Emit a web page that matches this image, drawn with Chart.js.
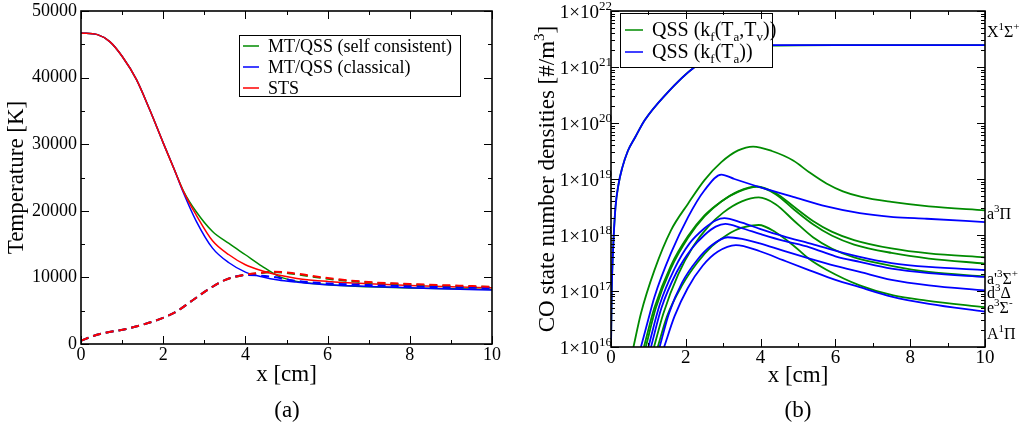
<!DOCTYPE html>
<html>
<head>
<meta charset="utf-8">
<script src="https://cdn.jsdelivr.net/npm/chart.js@4.4.1/dist/chart.umd.min.js"></script>
<style>
  body { margin: 0; background: #fff; }
  #wrap { position: relative; width: 1028px; height: 430px; overflow: hidden; }
  canvas { position: absolute; top: 0; }
  .cap { position: absolute; top: 396px; width: 100px; text-align: center;
         font: 23px "Liberation Serif", serif; line-height: 28px; color: #000; }
</style>
</head>
<body>
<div id="wrap">
  <canvas id="tempChart" width="510" height="430" style="left:0"></canvas>
  <canvas id="densChart" width="518" height="430" style="left:510px"></canvas>
  <div class="cap" style="left:237px">(a)</div>
  <div class="cap" style="left:748px">(b)</div>
</div>
<script>
// ---------------------------------------------------------------
// (a) 溫度分佈：實線 = 平移溫度, 虛線 = 振動溫度
const xTicks = [0, 2, 4, 6, 8, 10];
const tempTicks = [0, 10000, 20000, 30000, 40000, 50000];

const greenSolidX = [0, 0.4, 0.7, 1.0, 1.35, 1.67, 2.0, 2.27, 2.5, 2.8, 3.2, 3.6, 4.0, 4.4, 4.8, 5.25, 6.0, 7.0, 8.0, 9.0, 10];
const greenSolidT = [46700, 46450, 45400, 43200, 39700, 35200, 30200, 26200, 22900, 19900, 16900, 15100, 13400, 11700, 10200, 9400, 8900, 8600, 8400, 8300, 8200];
const blueSolidX  = [0, 0.4, 0.7, 1.0, 1.35, 1.67, 2.0, 2.27, 2.5, 2.8, 3.2, 3.6, 4.0, 4.4, 4.8, 5.25, 6.0, 7.0, 8.0, 9.0, 10];
const blueSolidT  = [46700, 46450, 45400, 43200, 39700, 35200, 30200, 26200, 22600, 18500, 14400, 12200, 10800, 10100, 9600, 9300, 8900, 8650, 8450, 8250, 8100];
const redSolidX   = [0, 0.4, 0.7, 1.0, 1.35, 1.67, 2.0, 2.27, 2.5, 2.8, 3.2, 3.6, 4.0, 4.4, 4.8, 5.25, 6.0, 7.0, 8.0, 9.0, 10];
const redSolidT   = [46700, 46450, 45400, 43200, 39700, 35200, 30200, 26200, 22800, 19400, 15500, 13400, 11900, 11000, 10350, 9850, 9400, 9050, 8800, 8600, 8450];

const greenDashX = [0, 0.3, 0.6, 1.1, 1.5, 1.9, 2.3, 2.7, 3.1, 3.5, 3.9, 4.3, 4.7, 5.2, 6.0, 7.0, 8.0, 9.0, 10];
const greenDashT = [500, 1200, 1700, 2250, 2900, 3700, 4800, 6500, 8200, 9600, 10300, 10600, 10800, 10500, 9800, 9250, 8950, 8700, 8550];
const blueDashX  = [0, 0.3, 0.6, 1.1, 1.5, 1.9, 2.3, 2.7, 3.1, 3.5, 4.0, 4.3, 4.7, 5.2, 6.0, 7.0, 8.0, 9.0, 10];
const blueDashT  = [500, 1200, 1700, 2250, 2900, 3700, 4800, 6500, 8200, 9600, 10350, 10300, 10050, 9500, 9100, 8850, 8650, 8500, 8400];
const redDashX   = [0, 0.3, 0.6, 1.1, 1.5, 1.9, 2.3, 2.7, 3.1, 3.5, 3.9, 4.3, 4.7, 5.2, 6.0, 7.0, 8.0, 9.0, 10];
const redDashT   = [500, 1200, 1700, 2250, 2900, 3700, 4800, 6500, 8200, 9600, 10300, 10650, 10850, 10600, 9900, 9300, 9000, 8800, 8600];

const tempLegend = ['MT/QSS (self consistent)', 'MT/QSS (classical)', 'STS'];

// ---------------------------------------------------------------
// (b) CO 各電子態數密度 [#/m^3]
const densTickExp = [16, 17, 18, 19, 20, 21, 22];

// 基態 X1Σ+
const gsGreenX = [0, 0.02, 0.06, 0.12, 0.2, 0.3, 0.45, 0.65, 0.9, 1.45, 2.24, 3.0, 3.6, 4.3, 6, 8, 10];
const gsGreenN = [1e16, 1e17, 6.31e17, 3.16e18, 7.94e18, 1.58e19, 3.16e19, 5.62e19, 1.12e20, 3.16e20, 1e21, 1.75e21, 2.15e21, 2.4e21, 2.45e21, 2.45e21, 2.45e21];
const gsBlueX  = [0, 0.02, 0.06, 0.12, 0.2, 0.3, 0.45, 0.65, 0.9, 1.45, 2.24, 3.0, 3.6, 4.3, 6, 8, 10];
const gsBlueN  = [1e16, 1e17, 6.31e17, 3.16e18, 7.94e18, 1.58e19, 3.16e19, 5.62e19, 1.12e20, 3.16e20, 1e21, 1.8e21, 2.24e21, 2.45e21, 2.45e21, 2.45e21, 2.45e21];

// QSS (kf(Ta,Tv)) 激發態
const green1X = [0.6, 0.8, 1.16, 1.6, 2.06, 2.5, 2.95, 3.4, 3.8, 4.3, 4.87, 5.3, 5.76, 6.2, 6.7, 7.5, 8.5, 10];
const green1N = [1e16, 3.98e16, 2.34e17, 1.2e18, 3.63e18, 9.55e18, 2.0e19, 3.24e19, 3.8e19, 3.16e19, 2.14e19, 1.32e19, 8.32e18, 6.03e18, 4.79e18, 3.89e18, 3.24e18, 2.75e18];
const green2X = [0.88, 1.16, 1.6, 2.06, 2.5, 2.95, 3.4, 3.9, 4.4, 4.9, 5.4, 5.9, 6.5, 7.5, 8.5, 10];
const green2N = [1e16, 5.01e16, 2.82e17, 9.55e17, 2.24e18, 3.98e18, 6.03e18, 7.41e18, 5.62e18, 3.16e18, 1.78e18, 1.15e18, 8.13e17, 5.75e17, 4.68e17, 3.98e17];
const green3X = [0.93, 1.2, 1.6, 2.06, 2.5, 2.95, 3.4, 3.9, 4.4, 4.9, 5.4, 5.9, 6.5, 7.5, 8.5, 10];
const green3N = [1e16, 5.01e16, 2.51e17, 8.91e17, 2.14e18, 3.98e18, 5.89e18, 7.24e18, 5.37e18, 2.82e18, 1.55e18, 9.77e17, 6.76e17, 4.79e17, 3.8e17, 3.09e17];
const green4X = [1.15, 1.4, 1.8, 2.2, 2.6, 3.0, 3.5, 3.95, 4.4, 4.9, 5.4, 5.9, 6.5, 7.5, 8.5, 10];
const green4N = [1e16, 3.98e16, 2.0e17, 6.31e17, 1.41e18, 2.51e18, 3.98e18, 4.68e18, 3.55e18, 1.78e18, 9.12e17, 5.75e17, 3.98e17, 2.82e17, 2.19e17, 1.82e17];
const green5X = [1.25, 1.5, 1.9, 2.3, 2.7, 3.1, 3.5, 3.95, 4.4, 4.9, 5.3, 5.76, 6.65, 7.55, 8.44, 10];
const green5N = [1e16, 3.55e16, 1.26e17, 3.16e17, 6.31e17, 1.0e18, 1.35e18, 1.51e18, 1.12e18, 6.31e17, 3.72e17, 2.4e17, 1.26e17, 8.32e16, 6.76e16, 5.13e16];

// QSS (kf(Ta)) 激發態
const blue1X = [0.8, 1.0, 1.16, 1.6, 2.06, 2.5, 2.95, 3.3, 4.0, 4.87, 5.76, 6.65, 7.55, 8.44, 10];
const blue1N = [1e16, 3.16e16, 7.76e16, 4.68e17, 2.09e18, 6.31e18, 1.2e19, 1.0e19, 7.08e18, 4.79e18, 3.24e18, 2.45e18, 2.09e18, 1.95e18, 1.7e18];
const blue2X = [1.0, 1.3, 1.7, 2.1, 2.5, 2.8, 3.03, 3.5, 3.98, 4.6, 5.31, 6.0, 6.65, 7.5, 8.5, 10];
const blue2N = [1e16, 5.62e16, 2.51e17, 7.08e17, 1.32e18, 1.82e18, 2.0e18, 1.66e18, 1.29e18, 9.55e17, 7.08e17, 5.25e17, 4.07e17, 3.16e17, 2.69e17, 2.37e17];
const blue3X = [1.07, 1.35, 1.75, 2.15, 2.5, 2.8, 3.06, 3.5, 3.98, 4.6, 5.31, 6.0, 6.65, 7.5, 8.5, 10];
const blue3N = [1e16, 5.01e16, 2.14e17, 5.62e17, 1.0e18, 1.41e18, 1.58e18, 1.32e18, 1.05e18, 7.94e17, 6.03e17, 4.17e17, 3.31e17, 2.51e17, 2.09e17, 1.78e17];
const blue4X = [1.3, 1.55, 1.9, 2.3, 2.7, 3.12, 3.5, 3.98, 4.6, 5.31, 6.0, 6.65, 7.5, 8.5, 10];
const blue4N = [1e16, 3.98e16, 1.41e17, 3.55e17, 6.61e17, 9.12e17, 8.51e17, 7.08e17, 5.25e17, 3.8e17, 2.82e17, 2.19e17, 1.58e17, 1.26e17, 1.02e17];
const blue5X = [1.42, 1.7, 2.05, 2.45, 2.85, 3.34, 3.98, 4.6, 5.31, 6.0, 6.65, 7.5, 8.5, 10];
const blue5N = [1e16, 3.55e16, 1.12e17, 2.82e17, 5.01e17, 6.61e17, 5.13e17, 3.55e17, 2.34e17, 1.58e17, 1.17e17, 7.94e16, 5.89e16, 4.27e16];

// 右側電子態標籤 (主體, 上標, 後綴上標, 標籤位置的數密度)
const stateLabels = [
  ['X', '1', 'Σ', '+', 4.4e21],
  ['a', '3', 'Π', '', 2.45e18],
  ["a'", '3', 'Σ', '+', 1.74e17],
  ['d', '3', 'Δ', '', 9.5e16],
  ['e', '3', 'Σ', '-', 5.1e16],
  ['A', '1', 'Π', '', 1.8e16]
];

// ---------------------------------------------------------------
const GREEN = 'rgb(0, 139, 0)';
const BLUE = 'rgb(0, 0, 255)';
const RED = 'rgb(255, 0, 0)';
const FONT = '"Liberation Serif", "Times New Roman", serif';

function pts(xs, ys) {
  return xs.map((x, i) => ({ x: x, y: ys[i] }));
}

function line(xs, ys, color, width, dash) {
  return {
    data: pts(xs, ys),
    borderColor: color,
    backgroundColor: color,
    borderWidth: width,
    borderDash: dash || [],
    pointRadius: 0,
    fill: false,
    cubicInterpolationMode: 'monotone'
  };
}

// 畫帶上下標的文字
function rich(ctx, parts, x, y, align) {
  let w = 0;
  parts.forEach(p => {
    ctx.font = p[1] + 'px ' + FONT;
    p.w = ctx.measureText(p[0]).width;
    w += p.w;
  });
  let cx = align === 'right' ? x - w : (align === 'center' ? x - w / 2 : x);
  ctx.textAlign = 'left';
  ctx.textBaseline = 'alphabetic';
  parts.forEach(p => {
    ctx.font = p[1] + 'px ' + FONT;
    ctx.fillText(p[0], cx, y + (p[2] || 0));
    cx += p.w;
  });
}

// 內向刻度線 (四邊)
function inTicks(ctx, a, sx, sy, xMaj, xMin, yMaj, yMin) {
  ctx.beginPath();
  const xt = (v, len) => {
    const p = Math.round(sx.getPixelForValue(v)) + 0.5;
    ctx.moveTo(p, a.bottom); ctx.lineTo(p, a.bottom - len);
    ctx.moveTo(p, a.top); ctx.lineTo(p, a.top + len);
  };
  const yt = (v, len) => {
    const p = Math.round(sy.getPixelForValue(v)) + 0.5;
    ctx.moveTo(a.left, p); ctx.lineTo(a.left + len, p);
    ctx.moveTo(a.right, p); ctx.lineTo(a.right - len, p);
  };
  xMaj.forEach(v => xt(v, 8));
  xMin.forEach(v => xt(v, 4));
  yMaj.forEach(v => yt(v, 8));
  yMin.forEach(v => yt(v, 4));
  ctx.lineWidth = 1;
  ctx.strokeStyle = '#000';
  ctx.stroke();
  ctx.lineWidth = 1.6;
  ctx.strokeRect(a.left, a.top, a.right - a.left, a.bottom - a.top);
}

// ---------------------------------------------------------------
// (a) 溫度圖
const tempDeco = {
  id: 'tempDeco',
  afterDatasetsDraw(chart) {
    const { ctx, chartArea: a, scales: { x, y } } = chart;
    ctx.save();

    // 圖例
    ctx.fillStyle = '#fff';
    ctx.fillRect(239.5, 35.5, 221, 61);
    ctx.strokeStyle = '#000';
    ctx.lineWidth = 1;
    ctx.strokeRect(239.5, 35.5, 221, 61);
    [GREEN, BLUE, RED].forEach((c, i) => {
      const ly = 46 + i * 21;
      ctx.beginPath();
      ctx.moveTo(243, ly); ctx.lineTo(259, ly);
      ctx.strokeStyle = c; ctx.lineWidth = 1.5; ctx.stroke();
      ctx.fillStyle = '#000';
      rich(ctx, [[tempLegend[i], 18]], 268, ly + 6, 'left');
    });

    inTicks(ctx, a, x, y, xTicks, [1, 3, 5, 7, 9],
      tempTicks, [5000, 15000, 25000, 35000, 45000]);

    ctx.fillStyle = '#000';
    ctx.font = '18px ' + FONT;
    ctx.textBaseline = 'middle';
    ctx.textAlign = 'right';
    tempTicks.forEach(v => ctx.fillText(String(v), 77, y.getPixelForValue(v)));
    ctx.textAlign = 'center';
    xTicks.forEach(v => ctx.fillText(String(v), x.getPixelForValue(v), 355));

    ctx.font = '23px ' + FONT;
    ctx.fillText('x [cm]', (a.left + a.right) / 2, 375);
    ctx.save();
    ctx.translate(17, (a.top + a.bottom) / 2);
    ctx.rotate(-Math.PI / 2);
    ctx.fillText('Temperature [K]', 0, 0);
    ctx.restore();
    ctx.restore();
  }
};

// Chart.js 先列出的資料集畫在最上層
new Chart(document.getElementById('tempChart'), {
  type: 'line',
  data: {
    datasets: [
      line(redDashX, redDashT, RED, 2, [8, 5]),
      line(blueDashX, blueDashT, BLUE, 2, [8, 5]),
      line(greenDashX, greenDashT, GREEN, 2, [8, 5]),
      line(redSolidX, redSolidT, RED, 1.5),
      line(blueSolidX, blueSolidT, BLUE, 1.5),
      line(greenSolidX, greenSolidT, GREEN, 1.5)
    ]
  },
  options: {
    responsive: false,
    animation: false,
    layout: { padding: { left: 81, right: 18, top: 11, bottom: 86 } },
    plugins: { legend: { display: false }, tooltip: { enabled: false } },
    scales: {
      x: { type: 'linear', min: 0, max: 10, display: false },
      y: { type: 'linear', min: 0, max: 50000, display: false }
    }
  },
  plugins: [tempDeco]
});

// ---------------------------------------------------------------
// (b) 數密度圖 (對數軸)
const densDeco = {
  id: 'densDeco',
  afterDatasetsDraw(chart) {
    const { ctx, chartArea: a, scales: { x, y } } = chart;
    ctx.save();

    // 圖例
    ctx.fillStyle = '#fff';
    ctx.fillRect(110.5, 13.5, 152, 54);
    ctx.strokeStyle = '#000';
    ctx.lineWidth = 1;
    ctx.strokeRect(110.5, 13.5, 152, 54);
    ctx.beginPath();
    ctx.moveTo(115, 30); ctx.lineTo(133, 30);
    ctx.strokeStyle = GREEN; ctx.lineWidth = 1.5; ctx.stroke();
    ctx.beginPath();
    ctx.moveTo(115, 52); ctx.lineTo(133, 52);
    ctx.strokeStyle = BLUE; ctx.stroke();
    ctx.fillStyle = '#000';
    rich(ctx, [['QSS (k', 20], ['f', 13, 5], ['(T', 20], ['a', 13, 5], [',T', 20], ['v', 13, 5], ['))', 20]], 142, 36, 'left');
    rich(ctx, [['QSS (k', 20], ['f', 13, 5], ['(T', 20], ['a', 13, 5], ['))', 20]], 142, 58, 'left');

    const maj = densTickExp.map(e => Math.pow(10, e));
    const mins = [];
    for (let e = 16; e < 22; e++) {
      for (let m = 2; m <= 9; m++) mins.push(m * Math.pow(10, e));
    }
    inTicks(ctx, a, x, y, xTicks, [1, 3, 5, 7, 9], maj, mins);

    ctx.fillStyle = '#000';
    densTickExp.forEach(e => {
      const py = y.getPixelForValue(Math.pow(10, e));
      rich(ctx, [['1×10', 19]], 89, py + 7, 'right');
      rich(ctx, [[String(e), 13]], 89, py - 1, 'left');
    });
    ctx.font = '19px ' + FONT;
    ctx.textAlign = 'center';
    ctx.textBaseline = 'middle';
    xTicks.forEach(v => ctx.fillText(String(v), x.getPixelForValue(v), 358));

    ctx.font = '23px ' + FONT;
    ctx.fillText('x [cm]', (a.left + a.right) / 2, 376);

    ctx.save();
    ctx.translate(44, (a.top + a.bottom) / 2);
    ctx.rotate(-Math.PI / 2);
    rich(ctx, [['CO state number densities [#/m', 23], ['3', 15, -10], [']', 23]], 0, 0, 'center');
    ctx.restore();

    stateLabels.forEach(s => {
      const py = y.getPixelForValue(s[4]);
      rich(ctx, [[s[0], 16], [s[1], 11, -7], [s[2], 16], [s[3], 11, -7]], a.right + 2, py + 6, 'left');
    });
    ctx.restore();
  }
};

new Chart(document.getElementById('densChart'), {
  type: 'line',
  data: {
    datasets: [
      line(gsBlueX, gsBlueN, BLUE, 1.8),
      line(blue1X, blue1N, BLUE, 1.8),
      line(blue2X, blue2N, BLUE, 1.8),
      line(blue3X, blue3N, BLUE, 1.8),
      line(blue4X, blue4N, BLUE, 1.8),
      line(blue5X, blue5N, BLUE, 1.8),
      line(gsGreenX, gsGreenN, GREEN, 1.8),
      line(green1X, green1N, GREEN, 1.8),
      line(green2X, green2N, GREEN, 1.8),
      line(green3X, green3N, GREEN, 1.8),
      line(green4X, green4N, GREEN, 1.8),
      line(green5X, green5N, GREEN, 1.8)
    ]
  },
  options: {
    responsive: false,
    animation: false,
    layout: { padding: { left: 101, right: 43, top: 11, bottom: 83 } },
    plugins: { legend: { display: false }, tooltip: { enabled: false } },
    scales: {
      x: { type: 'linear', min: 0, max: 10, display: false },
      y: { type: 'logarithmic', min: 1e16, max: 1e22, display: false }
    }
  },
  plugins: [densDeco]
});
</script>
</body>
</html>
